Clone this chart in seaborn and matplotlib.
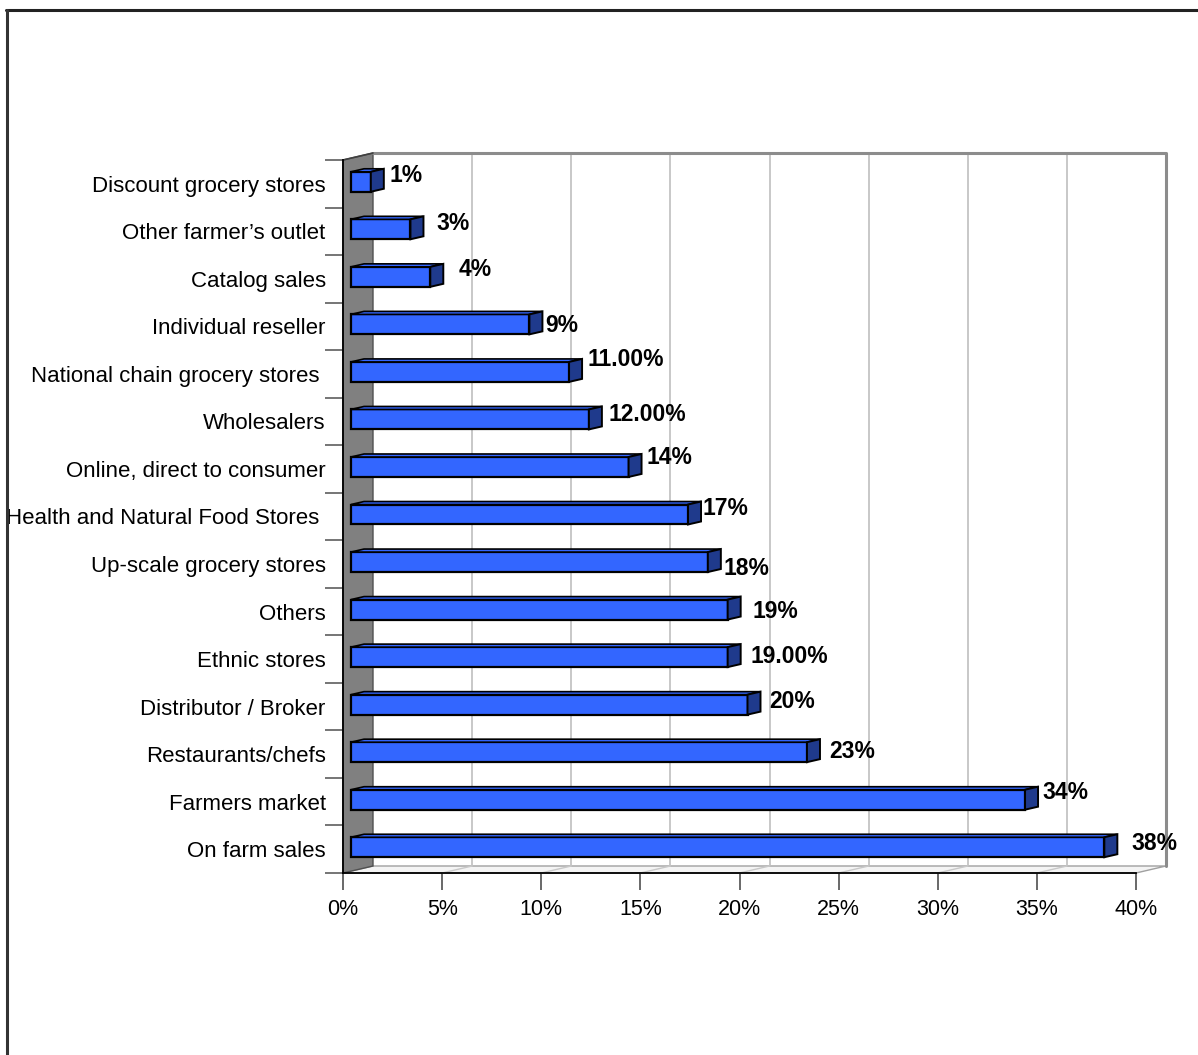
import matplotlib
matplotlib.use("Agg")
import matplotlib.pyplot as plt
import seaborn as sns
import pandas as pd
from matplotlib import transforms
from matplotlib.patches import Polygon
from matplotlib.lines import Line2D

# ---- data -------------------------------------------------------------
categories = [
    "Discount grocery stores",
    "Other farmer\u2019s outlet",
    "Catalog sales",
    "Individual reseller",
    "National chain grocery stores ",
    "Wholesalers",
    "Online, direct to consumer",
    "Health and Natural Food Stores ",
    "Up-scale grocery stores",
    "Others",
    "Ethnic stores",
    "Distributor / Broker",
    "Restaurants/chefs",
    "Farmers market",
    "On farm sales",
]
shares = [1, 3, 4, 9, 11, 12, 14, 17, 18, 19, 19, 20, 23, 34, 38]
value_labels = ["1%", "3%", "4%", "9%", "11.00%", "12.00%", "14%", "17%",
                "18%", "19%", "19.00%", "20%", "23%", "34%", "38%"]
x_ticks = [0, 5, 10, 15, 20, 25, 30, 35, 40]
x_tick_labels = ["0%", "5%", "10%", "15%", "20%", "25%", "30%", "35%", "40%"]

# label nudges (pixels right / up) from the end of each bar
label_dx = [6, 13, 15, 3, 5, 7, 5, 1, 3, 12, 10, 9, 9, 4, 14]
label_dy = [6, 6, 7, -1, 12, 5, 9, 6, -6, -2, 1, 3, 1, 7, 4]

df = pd.DataFrame({"channel": categories, "share": shares})

# ---- style ------------------------------------------------------------
sns.set_theme(style="white")
plt.rcParams["font.family"] = ["Liberation Sans", "DejaVu Sans"]
plt.rcParams["text.color"] = "black"
plt.rcParams["xtick.labelcolor"] = "black"
plt.rcParams["ytick.labelcolor"] = "black"

W, H = 1198, 1055
fig = plt.figure(figsize=(W / 100, H / 100), dpi=100)
fig.patch.set_facecolor("white")

# front plane of the 3-D box (pixel edges)
L, R, B, T = 343, 1136, 873, 160
ax = fig.add_axes([L / W, 1 - B / H, (R - L) / W, (B - T) / H])
ax.set_facecolor("none")

FRONT = "#3366FF"
SIDE = "#1F3A8C"
DX, DY = 30, 7           # depth of the box in pixels
BX, BY = 8, 2            # bar offset from front plane
CX, CY = 13, 3           # bar depth

sns.barplot(data=df, x="share", y="channel", orient="h", color=FRONT,
            saturation=1, width=0.42, edgecolor="black", linewidth=1.6,
            ax=ax, zorder=3)

ax.set_xlim(0, 40)
ax.set_ylim(len(categories) - 0.5, -0.5)

back = transforms.offset_copy(ax.transData, fig=fig, x=DX, y=DY, units="dots")
bar_tr = transforms.offset_copy(ax.transData, fig=fig, x=BX, y=BY, units="dots")
ident = transforms.IdentityTransform()

fig.canvas.draw()

# ---- walls and floor --------------------------------------------------
y0, y1 = -0.5, len(categories) - 0.5
ftl = ax.transData.transform((0, y0))
fbl = ax.transData.transform((0, y1))
fbr = ax.transData.transform((40, y1))
btl = back.transform((0, y0))
bbl = back.transform((0, y1))
bbr = back.transform((40, y1))
btr = back.transform((40, y0))

wall = Polygon([ftl, btl, bbl, fbl], closed=True, transform=ident,
               facecolor="#808080", edgecolor="#505050", linewidth=1,
               zorder=0.6, clip_on=False)
ax.add_artist(wall)
floor = Polygon([fbl, fbr, bbr, bbl], closed=True, transform=ident,
                facecolor="#F4F4F4", edgecolor="#A0A0A0", linewidth=1,
                zorder=0.5, clip_on=False)
ax.add_artist(floor)

# gridlines on the back wall and across the floor
for t in x_ticks[1:-1]:
    ax.add_line(Line2D([t, t], [y0, y1], transform=back, color="#BFBFBF",
                       linewidth=1.2, zorder=0.7, clip_on=False))
    pf = ax.transData.transform((t, y1))
    pb = back.transform((t, y1))
    ax.add_line(Line2D([pf[0], pb[0]], [pf[1], pb[1]], transform=ident,
                       color="#C8C8C8", linewidth=1, zorder=0.7, clip_on=False))

# back frame: top and right edges
ax.add_line(Line2D([btl[0], btr[0], bbr[0]], [btl[1], btr[1], bbr[1]],
                   transform=ident, color="#8C8C8C", linewidth=2.2,
                   zorder=0.8, clip_on=False))
ax.add_line(Line2D([ftl[0], btl[0]], [ftl[1], btl[1]], transform=ident,
                   color="#404040", linewidth=1.2, zorder=0.9, clip_on=False))

# ---- bars: front faces, top faces, end caps, labels ----------------------
for patch, lab, dx, dy in zip(ax.patches, value_labels, label_dx, label_dy):
    patch.set_transform(bar_tr)
    patch.set_clip_on(False)
    x, yb = patch.get_x(), patch.get_y()
    w, h = patch.get_width(), patch.get_height()
    p_start_top = bar_tr.transform((x, yb))
    p_end_top = bar_tr.transform((x + w, yb))
    p_end_bot = bar_tr.transform((x + w, yb + h))
    xs, xe = p_start_top[0], p_end_top[0]
    yt, ybt = p_end_top[1], p_end_bot[1]

    top = Polygon([(xs, yt), (xe, yt), (xe + CX, yt + CY), (xs + CX, yt + CY)],
                  closed=True, transform=ident, facecolor=FRONT,
                  edgecolor="black", linewidth=1.2, zorder=3.5, clip_on=False)
    ax.add_artist(top)
    cap = Polygon([(xe, ybt), (xe, yt), (xe + CX, yt + CY), (xe + CX, ybt + CY)],
                  closed=True, transform=ident, facecolor=SIDE,
                  edgecolor="black", linewidth=1.4, zorder=4, clip_on=False)
    ax.add_artist(cap)

    yc = (yt + ybt) / 2
    ax.text(xe + CX + dx, yc + dy, lab, transform=ident, ha="left",
            va="center", fontsize=16.5, fontweight="bold", color="black",
            zorder=5, clip_on=False)

# ---- axes -------------------------------------------------------------
for side in ("top", "right"):
    ax.spines[side].set_visible(False)
for side in ("left", "bottom"):
    ax.spines[side].set_color("black")
    ax.spines[side].set_linewidth(1.3)
    ax.spines[side].set_zorder(6)

ax.set_xticks(x_ticks)
ax.set_xticklabels(x_tick_labels)
ax.set_yticks(range(len(categories)))
ax.set_yticklabels(categories)
ax.set_yticks([i - 0.5 for i in range(len(categories) + 1)], minor=True)
ax.tick_params(axis="x", which="major", length=12, width=1.1,
               color="#404040", direction="out", pad=7, labelsize=15.5,
               bottom=True)
ax.tick_params(axis="y", which="major", length=0, pad=12.5, labelsize=16,
               left=True)
ax.tick_params(axis="y", which="minor", length=13, width=1.1,
               color="#505050", direction="out", left=True)
ax.set_xlabel("")
ax.set_ylabel("")
ax.grid(False)

# chart-area border (top and left edges)
fig.add_artist(Line2D([6 / W, 1], [1 - 9.5 / H, 1 - 9.5 / H],
                      transform=fig.transFigure, color="#222222", linewidth=2.2))
fig.add_artist(Line2D([6.5 / W, 6.5 / W], [0, 1 - 9.5 / H],
                      transform=fig.transFigure, color="#333333", linewidth=2.2))

fig.savefig("out.png", dpi=100, facecolor="white")
